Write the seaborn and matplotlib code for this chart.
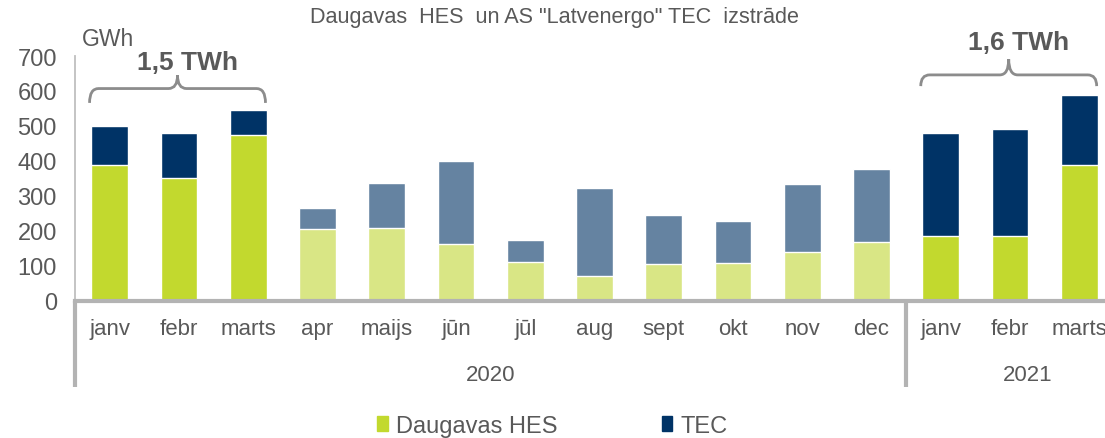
import numpy as np
import pandas as pd
import matplotlib
matplotlib.use("Agg")
import matplotlib.pyplot as plt
import seaborn as sns
from matplotlib.path import Path
from matplotlib.patches import PathPatch, Patch

# ─ data (GWh) ─
months = ['janv', 'febr', 'marts', 'apr', 'maijs', 'jūn', 'jūl', 'aug',
          'sept', 'okt', 'nov', 'dec', 'janv', 'febr', 'marts']
years = ['2020'] * 12 + ['2021'] * 3
hes = [390, 351, 474, 206, 209, 163, 111, 71, 107, 109, 140, 170, 187, 187, 389]
tec = [110, 129, 73, 60, 128, 237, 63, 252, 139, 120, 194, 207, 293, 305, 200]
# winter quarters are drawn in full colour, the rest faded
highlight = [True] * 3 + [False] * 9 + [True] * 3
brackets = [('1,5 TWh', 0, 2), ('1,6 TWh', 12, 14)]

HES_DARK, HES_LIGHT = '#C2D92E', '#D9E685'
TEC_DARK, TEC_LIGHT = '#003366', '#6583A1'
TXT = '#595959'
AXC = '#B3B3B3'

df = pd.DataFrame({
    'key': [f'{m} {y}' for m, y in zip(months, years)],
    'month': months, 'year': years,
    'hes': hes, 'tec': tec,
    'tone': ['dark' if h else 'light' for h in highlight],
})
df['total'] = df['hes'] + df['tec']

sns.set_style('white')
plt.rcParams['font.family'] = ['Liberation Sans', 'DejaVu Sans']

fig = plt.figure(figsize=(11.05, 4.39), dpi=100)
ax = fig.add_axes([75 / 1105, 1 - 302 / 439, 1039 / 1105, 245 / 439])

order = list(df['key'])
sns.barplot(data=df, x='key', y='total', hue='tone', order=order,
            palette={'dark': TEC_DARK, 'light': TEC_LIGHT}, width=0.53,
            saturation=1, legend=False, ax=ax)
sns.barplot(data=df, x='key', y='hes', hue='tone', order=order,
            palette={'dark': HES_DARK, 'light': HES_LIGHT}, width=0.53,
            saturation=1, legend=False, ax=ax)

ax.set_xlim(-0.5, 14.5)
ax.set_ylim(0, 700)
ax.set_yticks(range(0, 701, 100))
ax.tick_params(axis='y', labelsize=17, labelcolor=TXT, length=0, pad=13)
ax.set_xticks(range(len(months)))
ax.set_xticklabels(months)
ax.tick_params(axis='x', labelsize=16, labelcolor=TXT, length=0, pad=12)
ax.set_xlabel('')
ax.set_ylabel('')

for s in ['top', 'right']:
    ax.spines[s].set_visible(False)
ax.spines['left'].set_color('#BFBFBF')
ax.spines['left'].set_linewidth(1.3)
ax.spines['bottom'].set_color(AXC)
ax.spines['bottom'].set_linewidth(3)

# multi-level category axis: year groups with separators
xt = ax.get_xaxis_transform()
for xs in [-0.5, 11.5]:
    ax.plot([xs, xs], [0, -0.352], transform=xt, color=AXC, lw=3,
            clip_on=False, solid_capstyle='butt')
for yr in dict.fromkeys(years):
    idx = [i for i, y in enumerate(years) if y == yr]
    mid = (idx[0] + idx[-1]) / 2 if yr == '2020' else (idx[0] - 0.5 + 15.0) / 2
    ax.text(mid, -0.302, yr, transform=xt, ha='center', va='center',
            fontsize=16, color=TXT)


def bracket(ax, x0, x1, y, depth, peak, r=0.13):
    xm = (x0 + x1) / 2
    verts = [(x0, y - depth), (x0, y), (x0 + r, y),
             (xm - r, y), (xm, y), (xm, y + peak),
             (xm, y), (xm + r, y),
             (x1 - r, y), (x1, y), (x1, y - depth)]
    codes = [Path.MOVETO, Path.CURVE3, Path.CURVE3,
             Path.LINETO, Path.CURVE3, Path.CURVE3,
             Path.CURVE3, Path.CURVE3,
             Path.LINETO, Path.CURVE3, Path.CURVE3]
    ax.add_patch(PathPatch(Path(verts, codes), fill=False, ec='#8C8C8C',
                           lw=2, clip_on=False))


for (label, i0, i1), (yb, dep, pk, yt) in zip(
        brackets, [(607, 41, 38, 682), (646, 32, 45, 740)]):
    bracket(ax, i0 - 0.29, i1 + 0.25, yb, dep, pk)
    ax.text((i0 + i1) / 2 + 0.12, yt, label, ha='center', va='center',
            fontsize=19, fontweight='bold', color=TXT, clip_on=False)

fig.text(82 / 1105, 1 - 39 / 439, 'GWh', ha='left', va='center',
         fontsize=16.5, color=TXT)
fig.text(0.502, 1 - 18 / 439, 'Daugavas  HES  un AS "Latvenergo" TEC  izstrāde',
         ha='center', va='center', fontsize=15.6, color=TXT)

handles = [Patch(color=HES_DARK, label='Daugavas HES'),
           Patch(color=TEC_DARK, label='TEC')]
fig.legend(handles=handles, loc='center', bbox_to_anchor=(0.5, 1 - 427 / 439),
           ncol=2, frameon=False, fontsize=17, labelcolor=TXT,
           handlelength=0.45, handleheight=0.6, handletextpad=0.35,
           columnspacing=4.4)

fig.savefig('out.png', dpi=100)
